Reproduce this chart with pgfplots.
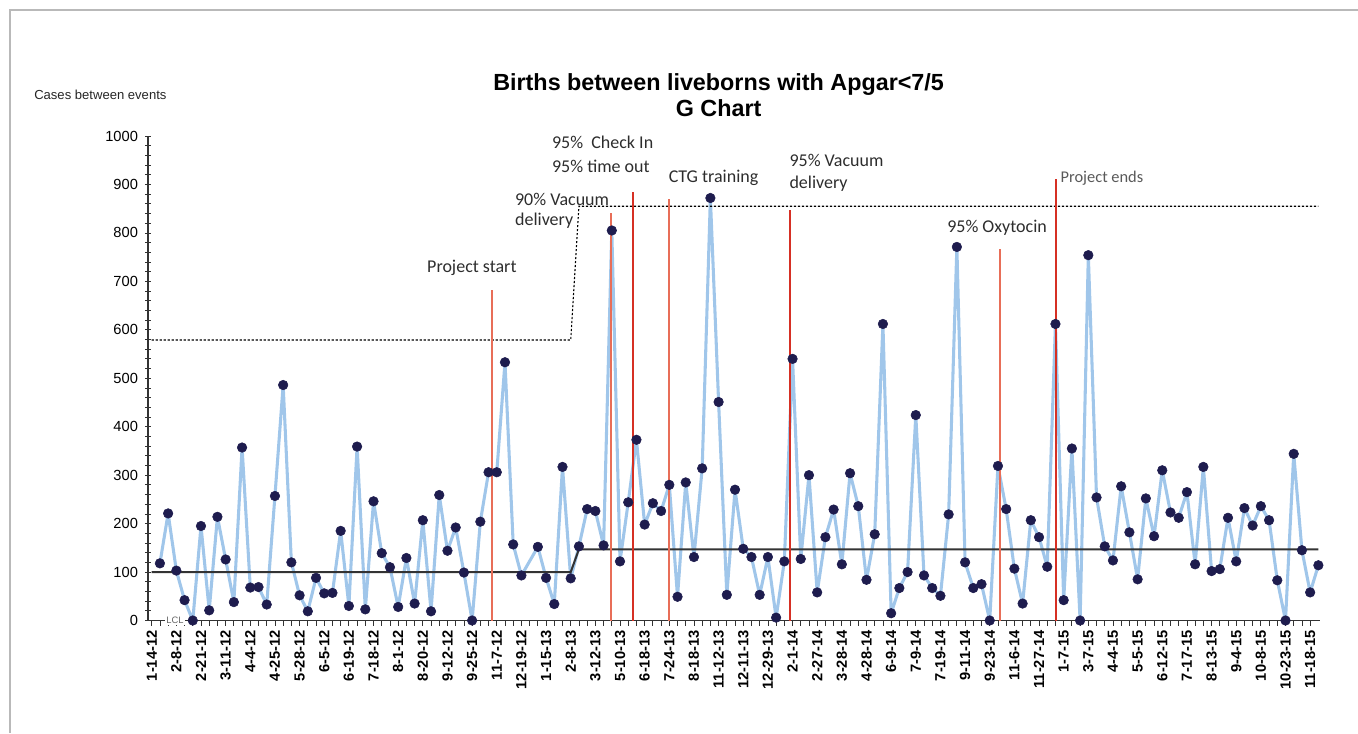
\documentclass[border=0pt]{standalone}
\usepackage{fontspec}
\setmainfont{Liberation Sans}
\newfontfamily\calfont{Carlito}
\usepackage{pgfplots}
\pgfplotsset{compat=1.18}

\definecolor{gline}{RGB}{160,198,234}
\definecolor{gdot}{RGB}{30,28,78}
\definecolor{evline}{RGB}{232,110,88}
\definecolor{evdark}{RGB}{214,48,36}
\definecolor{annot}{RGB}{45,45,45}

\begin{document}
\begin{tikzpicture}
\useasboundingbox (0,0) rectangle (1018.5pt,549.75pt);
\draw[gray!55, line width=0.8pt] (7.5pt,0) -- (7.5pt,542.25pt) -- (1018.5pt,542.25pt);

\begin{axis}[
    at={(111pt,84.375pt)}, anchor=south west,
    scale only axis, width=879pt, height=363.375pt,
    xmin=-0.45, xmax=142.2, ymin=0, ymax=1000,
    clip=false,
    axis x line*=bottom, axis y line*=left,
    axis line style={line width=1.1pt, black!80},
    ytick={0,100,...,1000}, minor y tick num=4,
    xtick={0,3,...,141}, minor x tick num=2,
    xticklabels={1-14-12,2-8-12,2-21-12,3-11-12,4-4-12,4-25-12,5-28-12,6-5-12,
        6-19-12,7-18-12,8-1-12,8-20-12,9-12-12,9-25-12,11-7-12,12-19-12,
        1-15-13,2-8-13,3-12-13,5-10-13,6-18-13,7-24-13,8-18-13,11-12-13,
        12-11-13,12-29-13,2-1-14,2-27-14,3-28-14,4-28-14,6-9-14,7-9-14,
        7-19-14,9-11-14,9-23-14,11-6-14,11-27-14,1-7-15,3-7-15,4-4-15,
        5-5-15,6-12-15,7-17-15,8-13-15,9-4-15,10-8-15,10-23-15,11-18-15},
    tick align=outside, major tick length=4pt, minor tick length=4pt,
    tick style={black!80, line width=0.6pt},
    y tick style={xshift=2pt},
    xticklabel style={rotate=90, anchor=east, font=\bfseries\fontsize{11}{11}\selectfont},
    yticklabel style={font=\fontsize{11}{11}\selectfont},
    /pgf/number format/assume math mode=true,
    /pgf/number format/1000 sep={},
]

% individual values
\addplot[gline, line width=2.3pt, line join=round] coordinates {
(1,118) (2,221) (3,103) (4,42) (5,0) (6,195) (7,21) (8,214) (9,126) (10,38)
(11,357) (12,68) (13,69) (14,33) (15,257) (16,486) (17,120) (18,52) (19,19) (20,88)
(21,56) (22,57) (23,185) (24,30) (25,359) (26,23) (27,246) (28,139) (29,110) (30,28)
(31,129) (32,35) (33,207) (34,19) (35,259) (36,144) (37,192) (38,99) (39,0) (40,204)
(41,306) (42,306) (43,533) (44,157) (45,93) (47,152) (48,88) (49,34) (50,317)
(51,87) (52,153) (53,230) (54,226) (55,155) (56,805) (57,122) (58,244) (59,373) (60,198)
(61,242) (62,226) (63,280) (64,49) (65,285) (66,131) (67,314) (68,872) (69,451) (70,53)
(71,270) (72,148) (73,131) (74,53) (75,131) (76,6) (77,122) (78,540) (79,127) (80,300)
(81,58) (82,172) (83,229) (84,116) (85,304) (86,236) (87,84) (88,178) (89,612) (90,15)
(91,67) (92,100) (93,424) (94,93) (95,67) (96,51) (97,219) (98,771) (99,120) (100,67)
(101,75) (102,0) (103,319) (104,230) (105,107) (106,35) (107,207) (108,172) (109,111) (110,612)
(111,42) (112,355) (113,0) (114,754) (115,254) (116,153) (117,124) (118,277) (119,182) (120,85)
(121,252) (122,174) (123,310) (124,223) (125,212) (126,265) (127,116) (128,317) (129,102) (130,106)
(131,212) (132,122) (133,232) (134,196) (135,236) (136,207) (137,83) (138,0) (139,344) (140,145)
(141,58) (142,114)
};

% centre line and upper limit
\addplot[black!80, line width=1.5pt] coordinates {(0,100) (51,100) (52,147) (142,147)};
\addplot[black, line width=0.8pt, dash pattern=on 1.6pt off 1.4pt] coordinates {(0,579) (51,579) (52,855) (142,855)};

% interventions
\addplot[evline, line width=1.4pt] coordinates {(41.4,0) (41.4,682)};
\addplot[evline, line width=1.4pt] coordinates {(55.9,0) (55.9,841)};
\addplot[evdark, line width=1.6pt] coordinates {(58.6,0) (58.6,884)};
\addplot[evline, line width=1.4pt] coordinates {(63.0,0) (63.0,869)};
\addplot[evdark, line width=1.6pt] coordinates {(77.7,0) (77.7,847)};
\addplot[evline, line width=1.4pt] coordinates {(103.3,0) (103.3,766)};
\addplot[evdark, line width=1.6pt] coordinates {(110.05,0) (110.05,911)};

% markers on top
\addplot[only marks, mark=*, mark size=3.6pt, gdot] coordinates {
(1,118) (2,221) (3,103) (4,42) (5,0) (6,195) (7,21) (8,214) (9,126) (10,38)
(11,357) (12,68) (13,69) (14,33) (15,257) (16,486) (17,120) (18,52) (19,19) (20,88)
(21,56) (22,57) (23,185) (24,30) (25,359) (26,23) (27,246) (28,139) (29,110) (30,28)
(31,129) (32,35) (33,207) (34,19) (35,259) (36,144) (37,192) (38,99) (39,0) (40,204)
(41,306) (42,306) (43,533) (44,157) (45,93) (47,152) (48,88) (49,34) (50,317)
(51,87) (52,153) (53,230) (54,226) (55,155) (56,805) (57,122) (58,244) (59,373) (60,198)
(61,242) (62,226) (63,280) (64,49) (65,285) (66,131) (67,314) (68,872) (69,451) (70,53)
(71,270) (72,148) (73,131) (74,53) (75,131) (76,6) (77,122) (78,540) (79,127) (80,300)
(81,58) (82,172) (83,229) (84,116) (85,304) (86,236) (87,84) (88,178) (89,612) (90,15)
(91,67) (92,100) (93,424) (94,93) (95,67) (96,51) (97,219) (98,771) (99,120) (100,67)
(101,75) (102,0) (103,319) (104,230) (105,107) (106,35) (107,207) (108,172) (109,111) (110,612)
(111,42) (112,355) (113,0) (114,754) (115,254) (116,153) (117,124) (118,277) (119,182) (120,85)
(121,252) (122,174) (123,310) (124,223) (125,212) (126,265) (127,116) (128,317) (129,102) (130,106)
(131,212) (132,122) (133,232) (134,196) (135,236) (136,207) (137,83) (138,0) (139,344) (140,145)
(141,58) (142,114)
};

\node[fill=white, inner sep=1pt, anchor=west, text=black!60, font=\fontsize{7}{7}\selectfont] at (axis cs:1.6,0) {LCL};

\begin{scope}[every node/.style={anchor=west, inner sep=0pt, text=annot, align=left,
        font=\calfont\fontsize{13.5}{16}\selectfont}]
\node at (axis cs:33.5,727) {Project start};
\node[font=\calfont\fontsize{13.5}{15}\selectfont] at (axis cs:44.2,845) {90\% Vacuum\\delivery};
\node[font=\calfont\fontsize{13.5}{18}\selectfont] at (axis cs:48.7,963) {95\%\ \ Check In\\95\% time out};
\node at (axis cs:62.9,913) {CTG training};
\node[font=\calfont\fontsize{13.5}{16.5}\selectfont] at (axis cs:77.6,924) {95\% Vacuum\\delivery};
\node at (axis cs:96.8,810) {95\% Oxytocin};
\node[text=black!65, font=\calfont\fontsize{12.3}{14}\selectfont] at (axis cs:110.6,913) {Project ends};
\end{scope}

\node[align=center, font=\bfseries\fontsize{17.5}{19.5}\selectfont] at (axis cs:69,1084)
    {Births between liveborns with Apgar<7/5\\G Chart};
\end{axis}

\node[anchor=west, inner sep=0pt, text=black!85, font=\fontsize{9.8}{10}\selectfont]
    at (25.5pt,478.5pt) {Cases between events};
\end{tikzpicture}
\end{document}
